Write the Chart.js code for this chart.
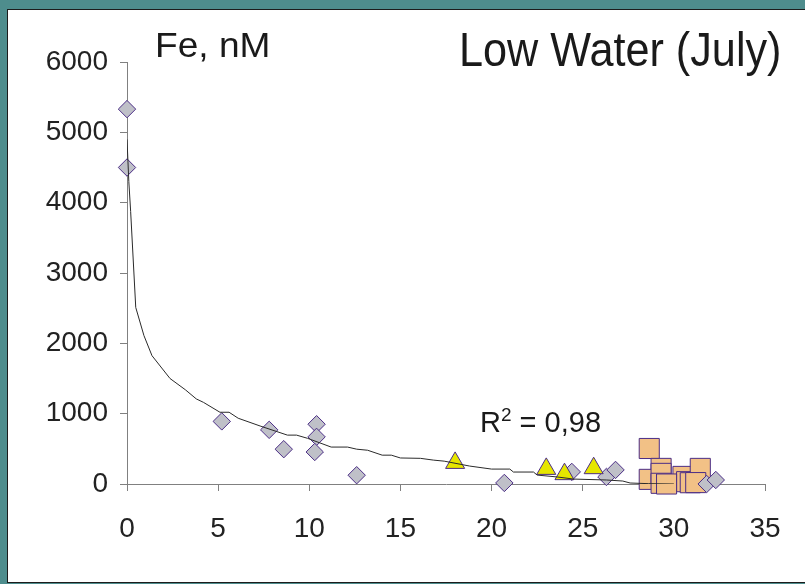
<!DOCTYPE html>
<html>
<head>
<meta charset="utf-8">
<script src="https://cdn.jsdelivr.net/npm/chart.js@4"></script>
<style>
  body { margin: 0; width: 805px; height: 584px; overflow: hidden; position: relative; background: #4e8d8d; font-family: "Liberation Sans", Arial, sans-serif; }
  #frame { position: absolute; left: 7px; top: 9px; width: 800px; height: 572px; background: #fff; border: 1px solid #1c1c1c; }
  #wrap { position: absolute; left: 0; top: 0; width: 800px; height: 572px; }
  .lbl { position: absolute; color: #1a1a1a; white-space: nowrap; line-height: 1; }
</style>
</head>
<body>
<div id="frame">
  <div id="wrap"><canvas id="fe_chart"></canvas></div>
  <div class="lbl" style="left:147px; top:17px; font-size:35px; transform:scaleX(1.06); transform-origin:left top;">Fe, nM</div>
  <div class="lbl" style="left:451px; top:16px; font-size:48px; transform:scaleX(0.9); transform-origin:left top;">Low Water (July)</div>
  <div class="lbl" style="left:472px; top:398px; font-size:29px;">R<span style="font-size:19px; position:relative; top:-11px;">2</span> = 0,98</div>
</div>
<script>
// salinity (x) vs dissolved Fe (nM)
const diamondX = [0, 0, 5.2, 7.8, 8.6, 10.4, 10.4, 10.3, 12.6, 20.7, 24.4, 26.3, 26.8, 31.8, 32.3];
const diamondY = [5330, 4500, 890, 770, 495, 850, 670, 455, 125, 15, 172, 100, 200, 0, 57];

const triangleX = [18.0, 23.0, 24.0, 25.6];
const triangleY = [300, 215, 140, 225];

const squareX = [28.65, 29.3, 28.65, 29.3, 29.3, 30.5, 30.7, 30.9, 31.45, 29.6, 31.2];
const squareY = [505, 222, 66, 151, 10, 108, 33, 18, 222, 0, 20];

const trendX = [0, 0.1, 0.2, 0.48, 0.93, 1.37, 2.36, 3.2, 3.8, 4.2, 5.1, 5.6, 6.1, 7.3, 8.8, 9.3, 9.9, 11.2, 12.1, 12.6, 13.2, 14.0, 14.5, 15.0, 16.1, 16.8, 17.4, 18.8, 20.0, 21.0, 21.2, 22.3, 22.5, 23.6, 24.5, 26.3, 27.2, 27.6, 28.6, 30];
const trendY = [4900, 4300, 3875, 2510, 2110, 1825, 1500, 1340, 1210, 1160, 1020, 1020, 935, 825, 695, 695, 650, 525, 525, 495, 480, 410, 410, 370, 365, 340, 325, 255, 212, 212, 170, 170, 127, 100, 70, 57, 42, 14, 5, 0];

const xTicks = [0, 5, 10, 15, 20, 25, 30, 35];
const yTicks = [0, 1000, 2000, 3000, 4000, 5000, 6000];

const toPoints = (xs, ys) => xs.map((x, i) => ({ x: x, y: ys[i] }));

const ctx = document.getElementById('fe_chart');
const edge = '#4b2d86';
const tickFont = { family: 'Liberation Sans', size: 28 };

const data = {
    datasets: [
    {
        label: 'trend',
        data: toPoints(trendX, trendY),
        showLine: true,
        borderColor: '#2a2a2a',
        borderWidth: 1,
        pointRadius: 0,
        order: 0
    },
    {
        label: 'triangles',
        data: toPoints(triangleX, triangleY),
        pointStyle: 'triangle',
        pointRadius: 11,
        backgroundColor: '#e6e600',
        borderColor: edge,
        borderWidth: 1,
        clip: false,
        order: 1
    },
    {
        label: 'diamonds',
        data: toPoints(diamondX, diamondY),
        pointStyle: 'rectRot',
        pointRadius: 8.7,
        backgroundColor: '#bfc0c8',
        borderColor: edge,
        borderWidth: 1,
        clip: false,
        order: 2
    },
    {
        label: 'squares',
        data: toPoints(squareX, squareY),
        pointStyle: 'rect',
        pointRadius: 14.2,
        backgroundColor: '#f2c186',
        borderColor: edge,
        borderWidth: 1,
        clip: false,
        order: 3
    }]
};

const config = {
    type: 'scatter',
    data: data,
    options: {
        responsive: true,
        maintainAspectRatio: false,
        animation: false,
        layout: { padding: { top: 52, right: 43, bottom: 38, left: 0 } },
        plugins: { legend: { display: false }, tooltip: { enabled: false } },
        scales: {
            x: {
                type: 'linear',
                min: 0,
                max: 35,
                border: { color: '#808080', width: 1 },
                grid: { drawOnChartArea: false, tickLength: 7, color: '#808080' },
                afterBuildTicks: (s) => { s.ticks = xTicks.map(v => ({ value: v })); },
                ticks: { padding: 21, color: '#222', font: tickFont, callback: (v) => String(v) },
                afterFit: (s) => { s.height = 60; }
            },
            y: {
                type: 'linear',
                min: 0,
                max: 6000,
                border: { color: '#808080', width: 1 },
                grid: { drawOnChartArea: false, tickLength: 7, color: '#808080' },
                afterBuildTicks: (s) => { s.ticks = yTicks.map(v => ({ value: v })); },
                ticks: { padding: 12, color: '#222', font: tickFont, callback: (v) => String(v) },
                afterFit: (s) => { s.width = 119; }
            }
        }
    }
};
new Chart(ctx, config);
</script>
</body>
</html>
